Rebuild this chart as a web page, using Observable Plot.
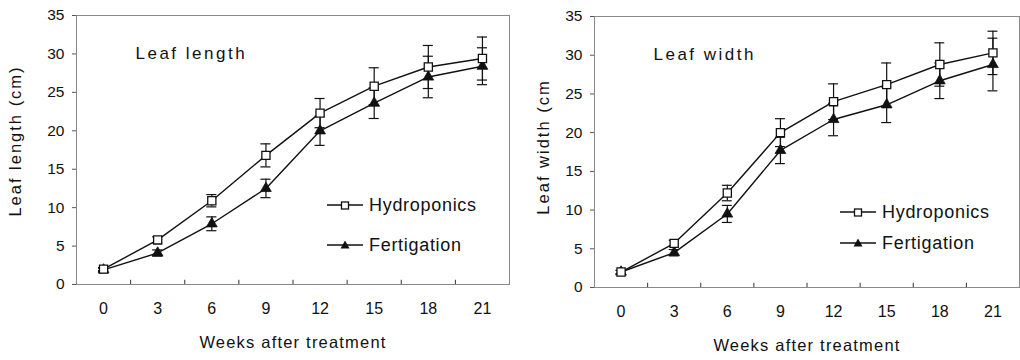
<!DOCTYPE html>
<html>
<head>
<meta charset="utf-8">
<script src="https://cdn.jsdelivr.net/npm/d3@7"></script>
<script src="https://cdn.jsdelivr.net/npm/@observablehq/plot@0.6"></script>
<style>
  html, body { margin: 0; padding: 0; background: #fff; }
  #wrap { position: relative; width: 1020px; height: 360px; display: flex; font-family: "Liberation Sans", Arial, sans-serif; }
  .legend { position: absolute; font-size: 18px; letter-spacing: 0.7px; color: #111; }
  .legend .row { display: flex; align-items: center; height: 20px; }
  .legend svg { margin-right: 6px; }
</style>
</head>
<body>
<div id="wrap"></div>
<script>
const weeks = [0, 3, 6, 9, 12, 15, 18, 21];
const seriesNames = ["Hydroponics", "Fertigation"];

const lengthHydro    = [2.0, 5.8, 10.9, 16.8, 22.3, 25.8, 28.3, 29.4];
const lengthHydroErr = [0.2, 0.4, 0.8, 1.5, 1.9, 2.4, 2.8, 2.8];
const lengthFert     = [1.9, 4.1, 7.9, 12.5, 20.0, 23.6, 27.0, 28.4];
const lengthFertErr  = [0.2, 0.4, 0.9, 1.2, 1.9, 2.0, 2.7, 2.4];

const widthHydro     = [2.0, 5.7, 12.2, 20.0, 24.0, 26.2, 28.8, 30.3];
const widthHydroErr  = [0.2, 0.4, 1.0, 1.8, 2.3, 2.8, 2.8, 2.8];
const widthFert      = [2.0, 4.5, 9.5, 17.7, 21.7, 23.6, 26.7, 28.8];
const widthFertErr   = [0.2, 0.4, 1.1, 1.7, 2.1, 2.3, 2.3, 3.4];

const yTicks = [0, 5, 10, 15, 20, 25, 30, 35];
const xLabel = "Weeks after treatment";

function rows(name, vals, errs) {
  return weeks.map((w, i) => ({series: name, week: w, value: vals[i], err: errs[i]}));
}

const boundaries = d3.pairs(weeks).map(([a, b]) => (a + b) / 2);

function panel({data, title, ylabel, marginLeft, marginRight, marginTop, marginBottom, ylabelDx, ylabelDy}) {
  const hydro = data.filter(d => d.series === "Hydroponics");
  const fert = data.filter(d => d.series === "Fertigation");
  const capHalf = 0.28;
  const svg = Plot.plot({
    width: 510,
    height: 360,
    marginLeft, marginRight, marginTop, marginBottom,
    style: {fontFamily: "Liberation Sans, Arial, sans-serif", fontSize: "16px", color: "#111", background: "white", overflow: "visible"},
    x: {type: "linear", domain: [-1.5, 22.5], axis: null},
    y: {domain: [0, 35], axis: null},
    marks: [
      Plot.frame({stroke: "#888", strokeWidth: 1}),
      Plot.ruleX(boundaries, {x: d => d, y1: 0, y2: 0.55, stroke: "#333", strokeWidth: 1}),
      Plot.axisY({ticks: yTicks, tickSize: 4, tickPadding: 8, fontSize: 15.5, label: null, stroke: "#555"}),
      Plot.axisX({ticks: weeks, tickSize: 0, tickPadding: 18, fontSize: 16, label: null}),
      Plot.text([ylabel], {frameAnchor: "left", textAnchor: "middle", dx: ylabelDx, dy: ylabelDy, rotate: -90, fontSize: 16.5, fill: "#111"}),
      Plot.text([xLabel], {frameAnchor: "bottom", dy: 63, fontSize: 16.5, fill: "#111"}),
      Plot.text([title], {frameAnchor: "top-left", dx: 59, dy: 31, textAnchor: "start", fontSize: 17, fill: "#111"}),
      // error bars
      Plot.ruleX(data, {x: "week", y1: d => d.value - d.err, y2: d => d.value + d.err, stroke: "#111", strokeWidth: 1.2}),
      Plot.ruleY(data, {y: d => d.value + d.err, x1: d => d.week - capHalf, x2: d => d.week + capHalf, stroke: "#111", strokeWidth: 1.2}),
      Plot.ruleY(data, {y: d => d.value - d.err, x1: d => d.week - capHalf, x2: d => d.week + capHalf, stroke: "#111", strokeWidth: 1.2}),
      // lines
      Plot.line(hydro, {x: "week", y: "value", stroke: "#111", strokeWidth: 1.4}),
      Plot.line(fert, {x: "week", y: "value", stroke: "#111", strokeWidth: 1.4}),
      // markers
      Plot.dot(fert, {x: "week", y: "value", symbol: "triangle", r: 4, fill: "#111", stroke: "#111", strokeWidth: 0.8}),
      Plot.dot(hydro, {x: "week", y: "value", symbol: "square", r: 4.6, fill: "white", stroke: "#111", strokeWidth: 1.3})
    ]
  });
  const spacing = {[xLabel]: "1.2px", [title]: "2.5px", [ylabel]: "2px"};
  svg.querySelectorAll("text").forEach(t => {
    const s = spacing[t.textContent];
    if (s) t.style.letterSpacing = s;
  });
  return svg;
}

function legend(left, top, gap) {
  const div = document.createElement("div");
  div.className = "legend";
  div.style.left = left + "px";
  div.style.top = top + "px";
  const sq = `<svg width="36" height="14"><line x1="0" y1="7" x2="36" y2="7" stroke="#111" stroke-width="1.4"/><rect x="14.5" y="4" width="7" height="7" fill="white" stroke="#111" stroke-width="1.3"/></svg>`;
  const tri = `<svg width="36" height="14"><line x1="0" y1="7" x2="36" y2="7" stroke="#111" stroke-width="1.4"/><path d="M18,2.5 L22.5,10.5 L13.5,10.5 Z" fill="#111"/></svg>`;
  div.innerHTML = `<div class="row">${sq}<span>${seriesNames[0]}</span></div>` +
                  `<div class="row" style="margin-top:${gap}px">${tri}<span>${seriesNames[1]}</span></div>`;
  return div;
}

const wrap = document.getElementById("wrap");
const lengthData = [...rows("Hydroponics", lengthHydro, lengthHydroErr), ...rows("Fertigation", lengthFert, lengthFertErr)];
const widthData = [...rows("Hydroponics", widthHydro, widthHydroErr), ...rows("Fertigation", widthFert, widthFertErr)];

wrap.appendChild(panel({data: lengthData, title: "Leaf length", ylabel: "Leaf length (cm)",
  marginLeft: 76, marginRight: 1, marginTop: 15, marginBottom: 76, ylabelDx: -61, ylabelDy: -9}));
wrap.appendChild(panel({data: widthData, title: "Leaf width", ylabel: "Leaf width (cm",
  marginLeft: 84, marginRight: 1, marginTop: 16, marginBottom: 73, ylabelDx: -51, ylabelDy: -5}));

wrap.appendChild(legend(327, 195, 20));
wrap.appendChild(legend(840, 202, 11));
</script>
</body>
</html>
